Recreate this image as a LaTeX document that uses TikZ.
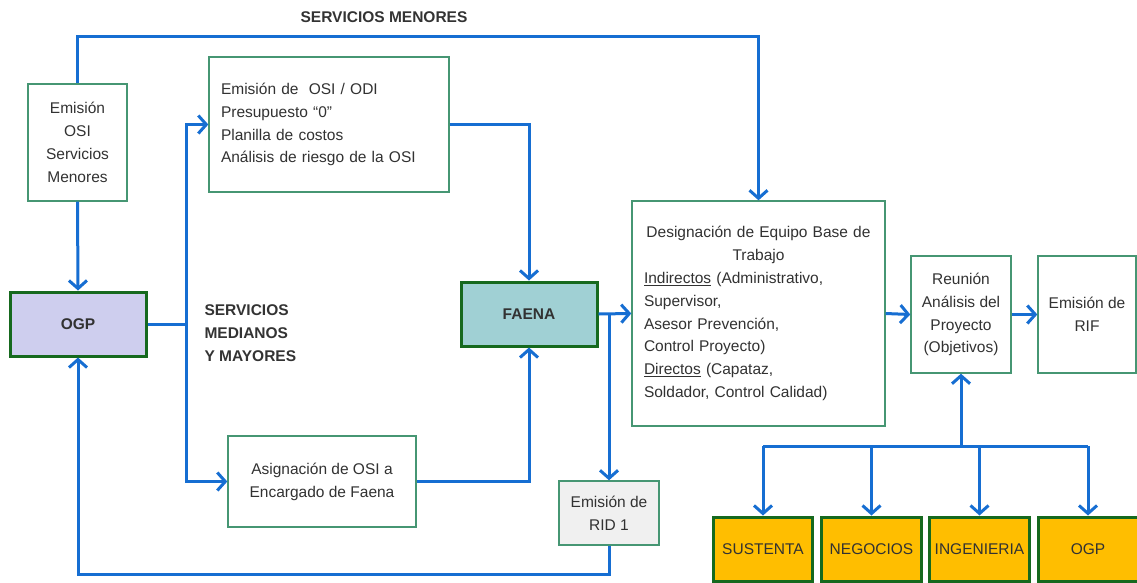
\documentclass[tikz,border=0pt]{standalone}
\usepackage{fontspec}
\setmainfont{Liberation Sans}
\usetikzlibrary{arrows.meta}
\definecolor{flowblue}{RGB}{22,110,210}
\definecolor{thinedge}{RGB}{70,150,115}
\definecolor{darkedge}{RGB}{22,105,30}
\definecolor{lavender}{RGB}{206,206,238}
\definecolor{teal}{RGB}{160,208,212}
\definecolor{gold}{RGB}{255,190,0}
\definecolor{ridgray}{RGB}{240,240,240}
\definecolor{ink}{RGB}{50,50,50}
\tikzset{
  txt/.style={font=\fontsize{15.5}{22.8}\selectfont, text=ink},
  box/.style={txt, draw=thinedge, line width=1.4pt, fill=white, align=center,
              inner sep=0pt},
  keybox/.style={txt, draw=darkedge, line width=3pt, inner sep=0pt,
                 font=\fontsize{15.5}{22.8}\selectfont\bfseries},
  areabox/.style={txt, draw=darkedge, line width=3pt, fill=gold, inner sep=0pt,
                  minimum width=100, minimum height=64},
  flow/.style={draw=flowblue, line width=3pt},
  arr/.style={flow, -{Straight Barb[length=8pt,width=18pt]}},
  lbl/.style={txt, font=\fontsize{15.5}{22.8}\selectfont\bfseries, text=black!80},
}
\begin{document}
\begin{tikzpicture}[x=1pt,y=-1pt]
\useasboundingbox (0,0) rectangle (1137,582);
\clip (0,0) rectangle (1137,582);
\fill[white] (0,0) rectangle (1137,582);

% boxes of the left-hand process
\node[box, minimum width=99, minimum height=117] (emi) at (77.5,142.5)
  {Emisión\\OSI\\Servicios\\Menores};
\node[keybox, fill=lavender, minimum width=136, minimum height=64] (ogp) at (78,324) {OGP};
\node[box, minimum width=240, minimum height=135, text width=216, align=left] (osi) at (329,124.5)
  {Emisión de\ \ OSI / ODI\\Presupuesto “0”\\Planilla de costos\\Análisis de riesgo de la OSI};
\node[box, minimum width=188, minimum height=91] (asig) at (322,481.5)
  {Asignación de OSI a\\Encargado de Faena};
\node[keybox, fill=teal, minimum width=136, minimum height=64] (faena) at (529,314) {FAENA};
\node[box, fill=ridgray, minimum width=100, minimum height=64] (rid) at (609,513)
  {Emisión de\\RID 1};

% team designation and project review
\node[box, minimum width=253, minimum height=225, text width=229, align=left] (desig) at (758.5,313.5)
  {\makebox[\linewidth][c]{Designación de Equipo Base de}\\
   \makebox[\linewidth][c]{Trabajo}\\
   \underline{Indirectos} (Administrativo,\\
   Supervisor,\\
   Asesor Prevención,\\
   Control Proyecto)\\
   \underline{Directos} (Capataz,\\
   Soldador, Control Calidad)};
\node[box, minimum width=100, minimum height=117] (reun) at (961,314.5)
  {Reunión\\Análisis del\\Proyecto\\(Objetivos)};
\node[box, minimum width=98, minimum height=117] (rif) at (1087,314.5)
  {Emisión de\\RIF};

% stakeholder areas
\node[areabox, minimum width=99] (sus) at (763,549) {SUSTENTA};
\node[areabox] (neg) at (871.5,549) {NEGOCIOS};
\node[areabox] (ing) at (979.5,549) {INGENIERIA};
\node[areabox] (ogpb) at (1088,549) {OGP};

% text labels
\node[lbl, anchor=center] (menores) at (384,17) {SERVICIOS MENORES};
\node[lbl, anchor=west, align=left] (mayores) at (201,333)
  {SERVICIOS\\MEDIANOS\\Y MAYORES};

% minor services route
\draw[arr] (emi.north) -- ++(0,-47) -| (desig.north);
\draw[arr] (emi.south) -- (ogp.north);

% medium and major services route
\coordinate (trunk) at (186,324);
\draw[flow] (ogp.east) -- (trunk);
\draw[arr] (trunk) |- (osi.west);
\draw[arr] (trunk) |- (asig.west);
\draw[arr] (osi.east) -| (faena.north);
\draw[arr] (asig.east) -| (faena.south);

% from FAENA onwards
\coordinate (split) at (609,314);
\draw[arr] (faena.east) -- (desig.west);
\draw[arr] (split) -- (rid.north);
\draw[arr] (rid.south) -- ++(0,29) -| (ogp.south);
\draw[arr] (desig.east) -- (reun.west);
\draw[arr] (reun.east) -- (rif.west);

% distribution bus to the areas
\coordinate (bus) at (961,446);
\draw[arr] (bus) -- (reun.south);
\draw[flow] (sus.north |- bus) -- (ogpb.north |- bus);
\draw[arr] (sus.north |- bus) -- (sus.north);
\draw[arr] (neg.north |- bus) -- (neg.north);
\draw[arr] (ing.north |- bus) -- (ing.north);
\draw[arr] (ogpb.north |- bus) -- (ogpb.north);
\end{tikzpicture}
\end{document}
